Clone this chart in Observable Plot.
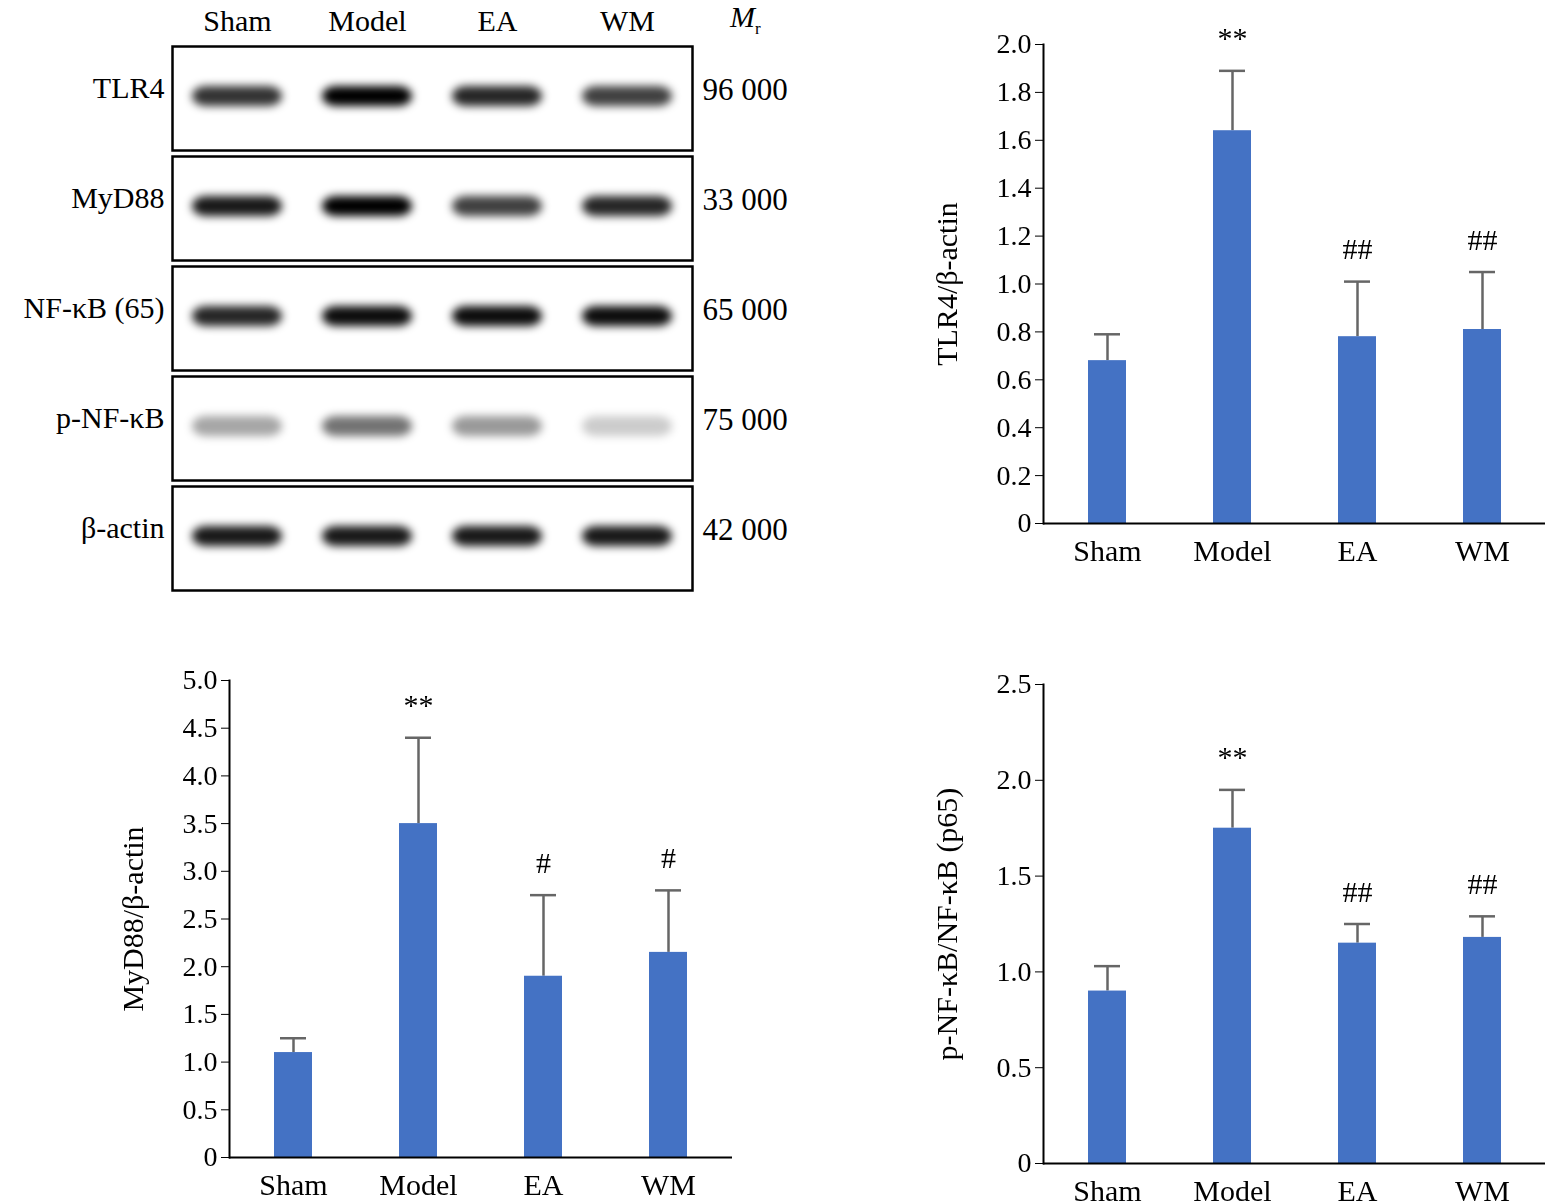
<!DOCTYPE html>
<html><head><meta charset="utf-8">
<script src="https://cdn.jsdelivr.net/npm/d3@7"></script>
<script src="https://cdn.jsdelivr.net/npm/@observablehq/plot@0.6"></script>
<style>
body{margin:0;background:#fff;}
#wrap{position:relative;width:1545px;height:1203px;font-family:"Liberation Serif",serif;}
#wrap svg{position:absolute;left:0;top:0;}
#wrap g[aria-label="cell"]{filter:blur(4px);}
#mr{position:absolute;left:730px;top:0px;font-size:30px;font-style:italic;}
#mr sub{font-size:17px;font-style:normal;}
</style></head><body>
<div id="wrap"><div id="mr">M<sub>r</sub></div></div>
<script>
const groups = ["Sham","Model","EA","WM"];
const proteins = ["TLR4","MyD88","NF-κB (65)","p-NF-κB","β-actin"];
const mrLabels = ["96 000","33 000","65 000","75 000","42 000"];
// band darkness per protein, per lane (Sham, Model, EA, WM)
const bandDark = [[0.8,1,0.85,0.75],[0.9,1,0.75,0.85],[0.85,0.95,0.95,0.95],[0.35,0.55,0.4,0.2],[0.9,0.9,0.9,0.9]];

const tlr4Mean = [0.68,1.64,0.78,0.81];
const tlr4Err  = [0.79,1.89,1.01,1.05];
const tlr4Sig  = ["","**","##","##"];
const myd88Mean = [1.10,3.50,1.90,2.15];
const myd88Err  = [1.25,4.40,2.75,2.80];
const myd88Sig  = ["","**","#","#"];
const pnfMean = [0.90,1.75,1.15,1.18];
const pnfErr  = [1.03,1.95,1.25,1.29];
const pnfSig  = ["","**","##","##"];

const wrap = document.getElementById("wrap");
const font = "Liberation Serif";

const bands = [];
proteins.forEach((p,i)=>groups.forEach((g,j)=>bands.push({protein:p,lane:g,v:bandDark[i][j]})));
const mrData = proteins.map((p,i)=>({protein:p,mr:mrLabels[i]}));
wrap.appendChild(Plot.plot({
  width:1545,height:1203,marginLeft:172,marginRight:853,marginTop:45,marginBottom:613,
  style:{fontFamily:font,fontSize:"30px",background:"transparent",overflow:"visible"},
  x:{domain:groups,padding:0,label:null},
  fy:{domain:proteins,padding:0.055,label:null},
  marks:[
    Plot.cell(bands,{x:"lane",fy:"protein",fill:"black",fillOpacity:"v",insetLeft:20,insetRight:20,insetTop:40,insetBottom:44,rx:14}),
    Plot.frame({stroke:"black",strokeWidth:2.5}),
    Plot.axisX({anchor:"top",tickSize:0,fontSize:30,tickPadding:16,facetAnchor:"top"}),
    Plot.axisFy({anchor:"left",tickSize:0,fontSize:30,tickPadding:8,dy:-10}),
    Plot.text(mrData,{fy:"protein",text:"mr",frameAnchor:"right",textAnchor:"start",dx:10,dy:-8,fontSize:31})
  ]
}));

function bars(mean,err,sig,label,ymax,step,m){
  const data = groups.map((g,i)=>({g,m:mean[i],e:err[i],s:sig[i]}));
  wrap.appendChild(Plot.plot({
    width:1545,height:1203,...m,
    style:{fontFamily:font,background:"transparent",overflow:"visible"},
    x:{domain:groups,paddingInner:0.70,paddingOuter:0.35,label:null},
    y:{domain:[0,ymax],label:label},
    marks:[
      Plot.ruleX(data,{x:"g",y1:"m",y2:"e",stroke:"#666",strokeWidth:2.5}),
      Plot.tickY(data,{x:"g",y:"e",stroke:"#666",strokeWidth:2.5,insetLeft:6,insetRight:6}),
      Plot.barY(data,{x:"g",y:"m",fill:"#4472c4"}),
      Plot.text(data,{x:"g",y:"e",text:"s",dy:-32,fontSize:30}),
      Plot.axisY({ticks:d3.range(0,ymax+1e-9,step),tickFormat:d=>d===0?"0":d.toFixed(1),tickSize:8,fontSize:28,tickPadding:4,
        label,labelAnchor:"center",labelArrow:"none",labelOffset:108}),
      Plot.axisX({tickSize:0,fontSize:30,tickPadding:16}),
      Plot.ruleY([0],{stroke:"black",strokeWidth:2}),
      Plot.frame({anchor:"left",stroke:"black",strokeWidth:2})
    ]
  }));
}
bars(tlr4Mean,tlr4Err,tlr4Sig,"TLR4/β-actin",2.0,0.2,{marginLeft:1043,marginRight:0,marginTop:44,marginBottom:680});
bars(myd88Mean,myd88Err,myd88Sig,"MyD88/β-actin",5.0,0.5,{marginLeft:229,marginRight:813,marginTop:680,marginBottom:46});
bars(pnfMean,pnfErr,pnfSig,"p-NF-κB/NF-κB (p65)",2.5,0.5,{marginLeft:1043,marginRight:0,marginTop:684,marginBottom:40});
document.querySelectorAll('#wrap svg g[aria-label="y-axis label"] text').forEach(t=>t.style.fontSize="30px");
</script></body></html>
